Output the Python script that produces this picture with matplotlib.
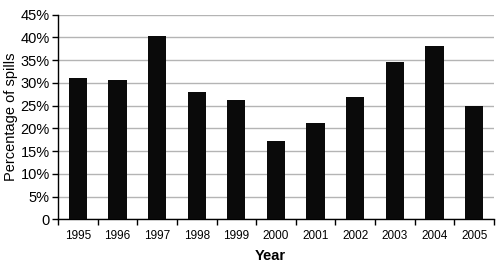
import matplotlib
matplotlib.use("Agg")
import matplotlib.pyplot as plt
import numpy as np

years = ["1995", "1996", "1997", "1998", "1999", "2000",
         "2001", "2002", "2003", "2004", "2005"]
spill_pct = [31.1, 30.6, 40.3, 27.9, 26.3, 17.2, 21.1, 26.9, 34.7, 38.1, 25.0]
y_ticks = [0, 5, 10, 15, 20, 25, 30, 35, 40, 45]
y_labels = ["0", "5%", "10%", "15%", "20%", "25%", "30%", "35%", "40%", "45%"]

plt.rcParams["font.family"] = ["Liberation Sans", "DejaVu Sans"]

fig = plt.figure(figsize=(5.02, 2.70), dpi=100)
ax = fig.add_axes([0.1155, 0.188, 0.8685, 0.7576])

x = np.arange(len(years))
ax.bar(x, spill_pct, width=0.46, color="#0a0a0a", zorder=3)

ax.set_xlim(-0.5, len(years) - 0.5)
ax.set_ylim(0, 45)
ax.set_yticks(y_ticks)
ax.set_yticklabels(y_labels, fontsize=10.5)
ax.yaxis.grid(True, color="#b4b4b4", lw=1, zorder=0)
ax.set_axisbelow(True)

ax.set_xticks(x)
ax.set_xticklabels(years, fontsize=8.5)
ax.tick_params(axis="x", which="major", length=0, pad=8)
ax.set_xticks(np.arange(-0.5, len(years), 1.0), minor=True)
ax.tick_params(axis="x", which="minor", length=4, width=1, direction="out")
ax.tick_params(axis="y", length=4, width=1, direction="out", pad=2)

for side in ["top", "right"]:
    ax.spines[side].set_visible(False)
for side in ["left", "bottom"]:
    ax.spines[side].set_linewidth(1)

ax.set_xlabel("Year", fontsize=10.5, fontweight="bold")
ax.xaxis.set_label_coords(0.487, -0.145)
ax.set_ylabel("Percentage of spills", fontsize=10.5, labelpad=2)

fig.savefig("out.png", dpi=100)
